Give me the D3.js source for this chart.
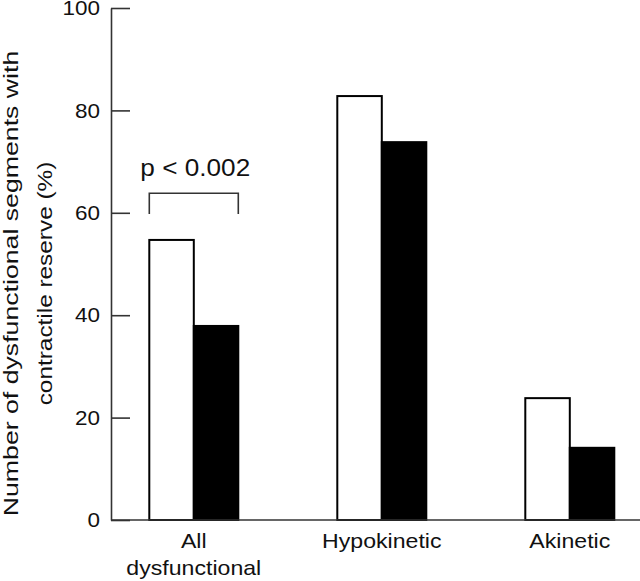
<!DOCTYPE html>
<html>
<head>
<meta charset="utf-8">
<script src="https://cdn.jsdelivr.net/npm/d3@7"></script>
<style>
  html, body { margin: 0; padding: 0; background: #fff; }
  svg { display: block; }
  text { font-family: "Liberation Sans", Arial, Helvetica, sans-serif; fill: #111; }
</style>
</head>
<body>
<svg id="chart" width="640" height="581"></svg>
<script>
const categories = ["All dysfunctional", "Hypokinetic", "Akinetic"];
const categoryLines = [["All", "dysfunctional"], ["Hypokinetic"], ["Akinetic"]];
const seriesNames = ["open", "filled"];
const openValues = [54.7, 82.8, 23.8];
const filledValues = [37.9, 73.8, 14.1];
const yTicks = [0, 20, 40, 60, 80, 100];
const yLabelLines = ["Number of dysfunctional segments with", "contractile reserve (%)"];
const annotation = "p < 0.002";

const svg = d3.select("#chart");
const axisX = 111, baseY = 520, topY = 8;

// widen glyphs along the text direction to match the reference typeface
function stretch(sel, factor) {
  sel.each(function() {
    const len = this.getComputedTextLength();
    d3.select(this).attr("textLength", len * factor).attr("lengthAdjust", "spacingAndGlyphs");
  });
}

const y = d3.scaleLinear().domain([0, 100]).range([baseY, topY]);
const x = d3.scaleBand().domain(categories).range([149.3, 614.3]).paddingInner(0.5266).paddingOuter(0);
const xs = d3.scaleBand().domain(seriesNames).range([0, x.bandwidth()]).padding(0);

// bars
const groups = svg.selectAll("g.grp").data(categories).enter().append("g")
  .attr("transform", d => `translate(${x(d)},0)`);
groups.each(function(cat, i) {
  const g = d3.select(this);
  const vals = [openValues[i], filledValues[i]];
  g.selectAll("rect").data(seriesNames).enter().append("rect")
    .attr("x", (s) => xs(s))
    .attr("y", (s, j) => y(vals[j]))
    .attr("width", xs.bandwidth())
    .attr("height", (s, j) => baseY - y(vals[j]))
    .attr("fill", s => s === "open" ? "#fff" : "#000")
    .attr("stroke", "#000")
    .attr("stroke-width", 2);
});

// y axis
const yAxis = d3.axisLeft(y).tickValues(yTicks).tickSizeInner(-19).tickSizeOuter(0).tickPadding(11);
const ga = svg.append("g").attr("transform", `translate(${axisX},0)`).call(yAxis);
ga.select(".domain").attr("stroke", "#333").attr("stroke-width", 1.6);
ga.selectAll(".tick line").attr("stroke", "#333").attr("stroke-width", 1.6);
ga.selectAll(".tick text").attr("font-size", 21).attr("fill", "#111")
  .attr("font-family", '"Liberation Sans", Arial, sans-serif');
stretch(ga.selectAll(".tick text"), 1.07);

// baseline
svg.append("line").attr("x1", axisX).attr("x2", 640).attr("y1", baseY).attr("y2", baseY)
  .attr("stroke", "#333").attr("stroke-width", 1.6);

// x labels
categories.forEach((c, i) => {
  const cx = x(c) + x.bandwidth() / 2;
  categoryLines[i].forEach((ln, k) => {
    const t = svg.append("text").attr("x", cx).attr("y", 548 + k * 26.5)
      .attr("text-anchor", "middle").attr("font-size", 21).text(ln);
    stretch(t, 1.1);
  });
});

// y label
const yLabelStretch = [1.27, 1.16];
yLabelLines.forEach((ln, k) => {
  const t = svg.append("text")
    .attr("transform", `translate(${17.5 + k * 34.5},283.5) rotate(-90)`)
    .attr("text-anchor", "middle").attr("font-size", 21).text(ln);
  stretch(t, yLabelStretch[k]);
});

// significance bracket
const bTop = 193.3, bBot = 214;
svg.append("path")
  .attr("d", `M${x(categories[0])},${bBot} V${bTop} H${x(categories[0]) + x.bandwidth()} V${bBot}`)
  .attr("fill", "none").attr("stroke", "#333").attr("stroke-width", 1.6);
const pt = svg.append("text").attr("x", x(categories[0]) + x.bandwidth() / 2 + 1.5).attr("y", 175.7)
  .attr("text-anchor", "middle").attr("font-size", 24).text(annotation);
stretch(pt, 1.09);
</script>
</body>
</html>
